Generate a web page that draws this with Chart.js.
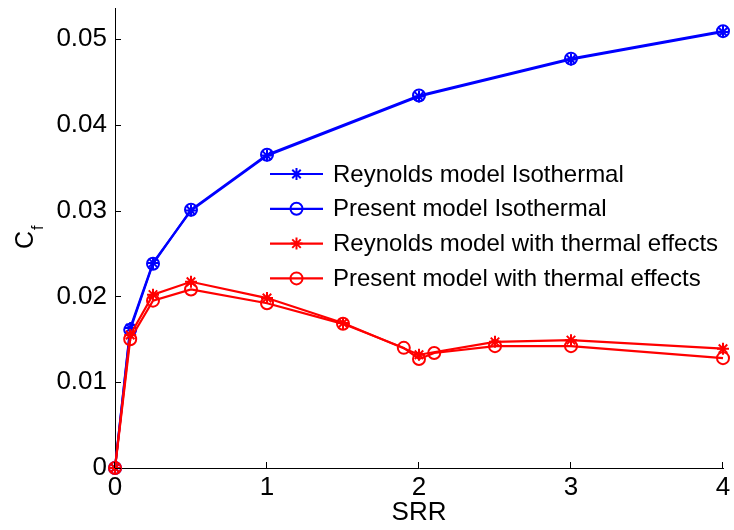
<!DOCTYPE html>
<html>
<head>
<meta charset="utf-8">
<script src="https://cdn.jsdelivr.net/npm/chart.js@4.4.1/dist/chart.umd.min.js"></script>
<style>
  html, body { margin: 0; padding: 0; background: #fff; }
  #wrap { width: 734px; height: 530px; }
</style>
</head>
<body>
<div id="wrap"><canvas id="cf" width="734" height="530"></canvas></div>
<script>
// values
const srrIso = [0, 0.1, 0.25, 0.5, 1, 2, 3, 4];
const cfReynoldsIso = [0, 0.0163, 0.0239, 0.0300, 0.0364, 0.0433, 0.0476, 0.0508];
const cfPresentIso = [0, 0.0161, 0.0238, 0.0301, 0.0365, 0.0434, 0.0477, 0.0509];

const srrReynoldsTh = [0, 0.1, 0.25, 0.5, 1, 1.5, 2, 2.5, 3, 4];
const cfReynoldsTh = [0, 0.0155, 0.0202, 0.0217, 0.0198, 0.0169, 0.0132, 0.0147, 0.0149, 0.0139];

const srrPresentTh = [0, 0.1, 0.25, 0.5, 1, 1.5, 1.9, 2, 2.1, 2.5, 3, 4];
const cfPresentTh = [0, 0.0150, 0.0195, 0.0208, 0.0192, 0.0168, 0.0140, 0.0127, 0.0134, 0.0142, 0.0142, 0.0128];

const xTicks = [0, 1, 2, 3, 4];
const yTicks = [0, 0.01, 0.02, 0.03, 0.04, 0.05];

const seriesLabels = [
    'Reynolds model Isothermal',
    'Present model Isothermal',
    'Reynolds model with thermal effects',
    'Present model with thermal effects'
];

const FONT = '"Liberation Sans", Arial, sans-serif';

function pts(xs, ys) {
    return xs.map((x, i) => ({ x: x, y: ys[i] }));
}

function lineSet(label, xs, ys, color, style, order) {
    return {
        label: label,
        data: pts(xs, ys),
        borderColor: color,
        backgroundColor: color,
        borderWidth: 2.2,
        pointStyle: style,
        pointRadius: 6,
        pointBorderWidth: 2,
        pointBorderColor: color,
        pointBackgroundColor: 'rgba(0,0,0,0)',
        tension: 0,
        clip: false,
        order: order
    };
}

// MATLAB style inward ticks, legend and the C_f label
const decorPlugin = {
    id: 'decor',
    afterDraw(chart) {
        const ctx = chart.ctx;
        const area = chart.chartArea;
        const xs = chart.scales.x, ys = chart.scales.y;
        ctx.save();
        ctx.strokeStyle = '#000';
        ctx.lineWidth = 1;
        ctx.beginPath();
        yTicks.forEach(v => {
            const p = Math.round(ys.getPixelForValue(v)) + 0.5;
            ctx.moveTo(area.left, p);
            ctx.lineTo(area.left + 6, p);
        });
        xTicks.forEach(v => {
            const p = Math.round(xs.getPixelForValue(v)) - 0.5;
            ctx.moveTo(p, area.bottom);
            ctx.lineTo(p, area.bottom - 6);
        });
        ctx.stroke();

        // legend
        const lx0 = 270, lx1 = 323, tx = 333, ly0 = 174, dy = 34.8;
        chart.data.datasets.forEach((ds, i) => {
            const y = ly0 + i * dy;
            ctx.strokeStyle = ds.borderColor;
            ctx.lineWidth = 2.2;
            ctx.beginPath();
            ctx.moveTo(lx0, y);
            ctx.lineTo(lx1, y);
            ctx.stroke();
            ctx.fillStyle = 'rgba(0,0,0,0)';
            ctx.lineWidth = 2;
            Chart.helpers.drawPoint(ctx, {
                pointStyle: ds.pointStyle,
                radius: 6,
                rotation: 0,
                borderWidth: 2
            }, (lx0 + lx1) / 2, y);
            ctx.fillStyle = '#000';
            ctx.font = '24px ' + FONT;
            ctx.textBaseline = 'middle';
            ctx.textAlign = 'left';
            ctx.fillText(ds.label, tx, y + 1);
        });

        // y title C_f
        ctx.translate(33, 240);
        ctx.rotate(-Math.PI / 2);
        ctx.fillStyle = '#000';
        ctx.textBaseline = 'alphabetic';
        ctx.textAlign = 'center';
        ctx.font = '25px ' + FONT;
        ctx.fillText('C', 0, 0);
        ctx.font = '16px ' + FONT;
        ctx.textAlign = 'left';
        ctx.fillText('f', 10, 10);
        ctx.restore();
    }
};

const datasets = [
    lineSet(seriesLabels[0], srrIso, cfReynoldsIso, '#0000ff', 'star', 4),
    lineSet(seriesLabels[1], srrIso, cfPresentIso, '#0000ff', 'circle', 3),
    lineSet(seriesLabels[2], srrReynoldsTh, cfReynoldsTh, '#ff0000', 'star', 2),
    lineSet(seriesLabels[3], srrPresentTh, cfPresentTh, '#ff0000', 'circle', 1)
];

new Chart(document.getElementById('cf').getContext('2d'), {
    type: 'line',
    data: { datasets: datasets },
    options: {
        responsive: false,
        animation: false,
        devicePixelRatio: 1,
        layout: { padding: { top: 8, right: 11, left: 0, bottom: 0 } },
        plugins: {
            legend: { display: false },
            tooltip: { enabled: false }
        },
        scales: {
            x: {
                type: 'linear',
                min: 0,
                max: 4,
                afterFit: (s) => { s.height = 62; s.paddingLeft = 0; s.paddingRight = 0; },
                grid: { display: false, drawTicks: false },
                border: { display: true, color: '#000', width: 1 },
                ticks: {
                    stepSize: 1,
                    padding: 4,
                    color: '#000',
                    font: { family: FONT, size: 26 }
                },
                title: {
                    display: true,
                    text: 'SRR',
                    color: '#000',
                    padding: { top: 0, bottom: 2 },
                    font: { family: FONT, size: 26 }
                }
            },
            y: {
                type: 'linear',
                min: 0,
                max: 0.0536,
                afterFit: (s) => { s.width = 115; s.paddingTop = 0; s.paddingBottom = 0; },
                grid: { display: false, drawTicks: false },
                border: { display: true, color: '#000', width: 1 },
                ticks: {
                    stepSize: 0.01,
                    includeBounds: false,
                    padding: 8,
                    color: '#000',
                    font: { family: FONT, size: 26 },
                    callback: (v) => v === 0 ? '0' : (Math.round(v * 100) / 100).toFixed(2)
                }
            }
        }
    },
    plugins: [decorPlugin]
});
</script>
</body>
</html>
